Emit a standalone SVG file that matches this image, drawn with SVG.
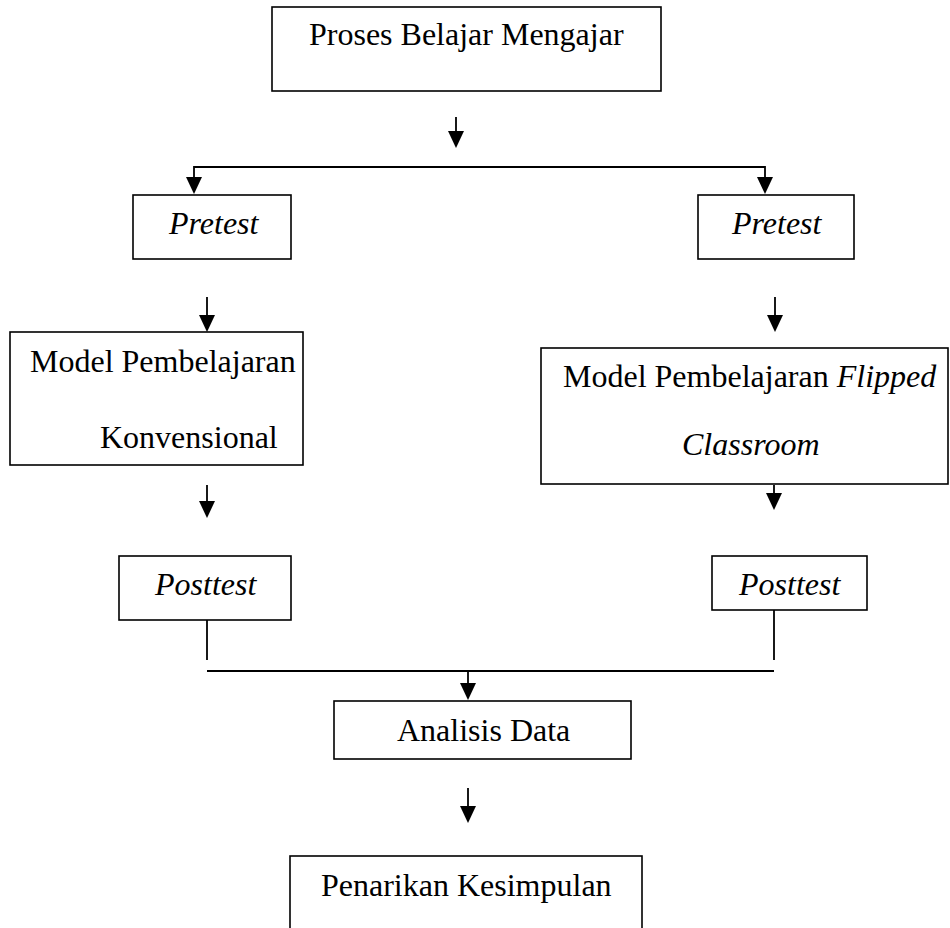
<svg xmlns="http://www.w3.org/2000/svg" width="950" height="928" viewBox="0 0 950 928">
<style>
.box{fill:#fff;stroke:#000;stroke-width:1.6}
.t{font-family:"Liberation Serif","Times New Roman",serif;font-size:32px;fill:#000}
.i{font-style:italic}
.c{fill:none;stroke:#000;stroke-width:1.8}
</style>
<defs>
<marker id="ah" markerUnits="userSpaceOnUse" markerWidth="17" markerHeight="17" viewBox="0 0 17 17" refX="14" refY="8.5" orient="auto-start-reverse">
<path d="M0,0.5 L17,8.5 L0,16.5 z" fill="#000"/>
</marker>
</defs>
<rect width="950" height="928" fill="#fff"/>
<g id="connectors">
<path class="c" d="M456,117 V145" marker-end="url(#ah)"/>
<path class="c" d="M194,191 V167 H765 V191" marker-start="url(#ah)" marker-end="url(#ah)"/>
<path class="c" d="M207,297 V329" marker-end="url(#ah)"/>
<path class="c" d="M775,297 V329" marker-end="url(#ah)"/>
<path class="c" d="M207,485 V515" marker-end="url(#ah)"/>
<path class="c" d="M774,485 V507" marker-end="url(#ah)"/>
<path class="c" d="M207,620 V660"/>
<path class="c" d="M774,610 V660"/>
<path class="c" d="M207,671 H774"/>
<path class="c" d="M468,671 V697" marker-end="url(#ah)"/>
<path class="c" d="M468,788 V820" marker-end="url(#ah)"/>
</g>
<g id="proses">
<rect class="box" x="272" y="7" width="389" height="84"/>
<text class="t" x="309" y="45">Proses Belajar Mengajar</text>
</g>
<g id="pretest-left">
<rect class="box" x="133" y="195" width="158" height="64"/>
<text class="t i" x="169" y="234">Pretest</text>
</g>
<g id="pretest-right">
<rect class="box" x="698" y="195" width="156" height="64"/>
<text class="t i" x="732" y="234">Pretest</text>
</g>
<g id="model-konvensional">
<rect class="box" x="10" y="332" width="293" height="133"/>
<text class="t" x="30" y="372">Model Pembelajaran</text>
<text class="t" x="100" y="448">Konvensional</text>
</g>
<g id="model-flipped">
<rect class="box" x="541" y="348" width="407" height="136"/>
<text class="t" x="563" y="387">Model Pembelajaran <tspan class="i">Flipped</tspan></text>
<text class="t i" x="682" y="455">Classroom</text>
</g>
<g id="posttest-left">
<rect class="box" x="119" y="556" width="172" height="64"/>
<text class="t i" x="155" y="595">Posttest</text>
</g>
<g id="posttest-right">
<rect class="box" x="712" y="556" width="155" height="54"/>
<text class="t i" x="739" y="595">Posttest</text>
</g>
<g id="analisis">
<rect class="box" x="334" y="701" width="297" height="58"/>
<text class="t" x="397" y="741">Analisis Data</text>
</g>
<g id="penarikan">
<rect class="box" x="290" y="856" width="352" height="90"/>
<text class="t" x="321" y="896">Penarikan Kesimpulan</text>
</g>
</svg>
